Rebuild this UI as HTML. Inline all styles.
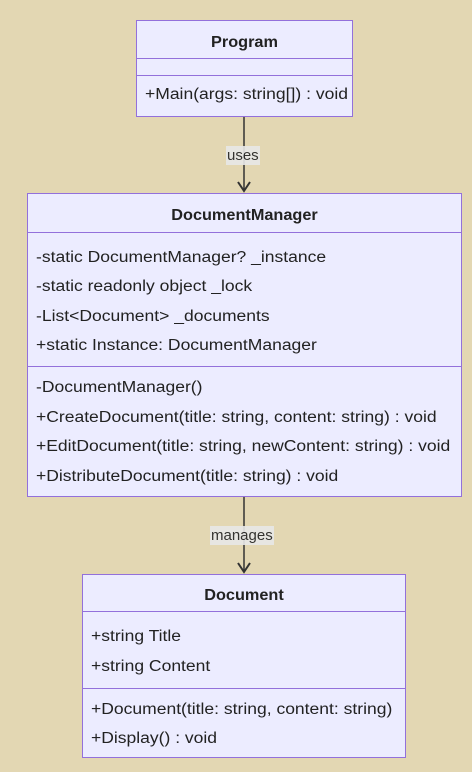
<!DOCTYPE html>
<html><head><meta charset="utf-8"><style>
html,body{margin:0;padding:0;}
body{width:472px;height:772px;background:#e3d7b3;position:relative;overflow:hidden;font-family:"Liberation Sans",sans-serif;color:#222;}
.box{position:absolute;background:#ececff;border:1px solid #9370db;box-sizing:border-box;}
.hl{position:absolute;left:0;right:0;height:0;border-top:1px solid #9370db;}
.t{position:absolute;font-size:15.5px;white-space:nowrap;line-height:18px;transform:scaleX(1.13);transform-origin:0 0;}
.h{font-weight:bold;left:0;right:0;text-align:center;transform:scaleX(1.05);transform-origin:50% 0;}
.lbl{position:absolute;background:#e8e8e8;font-size:15px;line-height:19px;padding:0 1px;opacity:.9}
</style></head><body>
<svg width="472" height="772" style="position:absolute;left:0;top:0">
<line x1="244" y1="116" x2="244" y2="191" stroke="#333" stroke-width="1.5"/>
<polyline points="238,182 244,191 250,182" fill="none" stroke="#333" stroke-width="2"/>
<line x1="244" y1="496" x2="244" y2="572" stroke="#333" stroke-width="1.5"/>
<polyline points="238,563 244,572 250,563" fill="none" stroke="#333" stroke-width="2"/>
</svg>
<div class="lbl" style="left:226px;top:146px">uses</div>
<div class="lbl" style="left:210px;top:526px">manages</div>

<div class="box" style="left:136px;top:20px;width:217px;height:97px">
<div class="t h" style="top:13px">Program</div>
<div class="hl" style="top:37px"></div>
<div class="hl" style="top:54px"></div>
<div class="t" style="left:8px;top:65px">+Main(args: string[]) : void</div>
</div>

<div class="box" style="left:27px;top:193px;width:435px;height:304px">
<div class="t h" style="top:13px">DocumentManager</div>
<div class="hl" style="top:38px"></div>
<div class="t" style="left:8px;top:55px">-static DocumentManager? _instance</div>
<div class="t" style="left:8px;top:84px">-static readonly object _lock</div>
<div class="t" style="left:8px;top:114px">-List&lt;Document&gt; _documents</div>
<div class="t" style="left:8px;top:143px">+static Instance: DocumentManager</div>
<div class="hl" style="top:172px"></div>
<div class="t" style="left:8px;top:185px">-DocumentManager()</div>
<div class="t" style="left:8px;top:215px">+CreateDocument(title: string, content: string) : void</div>
<div class="t" style="left:8px;top:244px">+EditDocument(title: string, newContent: string) : void</div>
<div class="t" style="left:8px;top:274px">+DistributeDocument(title: string) : void</div>
</div>

<div class="box" style="left:82px;top:574px;width:324px;height:184px">
<div class="t h" style="top:12px">Document</div>
<div class="hl" style="top:36px"></div>
<div class="t" style="left:8px;top:53px">+string Title</div>
<div class="t" style="left:8px;top:83px">+string Content</div>
<div class="hl" style="top:113px"></div>
<div class="t" style="left:8px;top:126px">+Document(title: string, content: string)</div>
<div class="t" style="left:8px;top:155px">+Display() : void</div>
</div>
</body></html>
